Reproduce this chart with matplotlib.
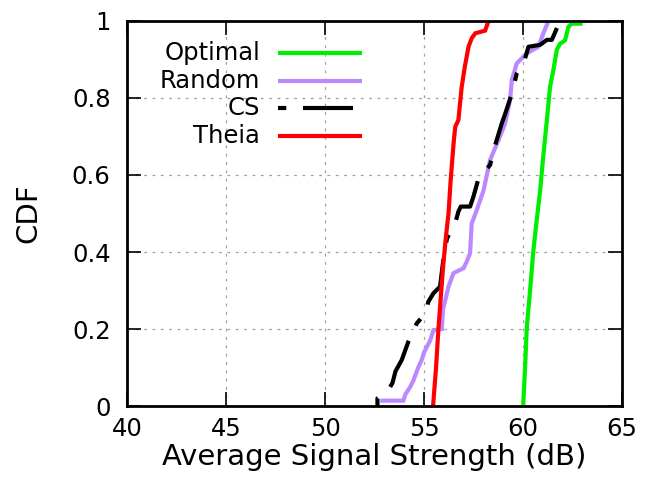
import matplotlib
matplotlib.use("Agg")
import matplotlib.pyplot as plt
from matplotlib.lines import Line2D

plt.rcParams['font.family'] = ['DejaVu Sans']
plt.rcParams['lines.scale_dashes'] = False

# Data
optimal_x = [60.0, 60.1, 60.18, 60.35, 60.51, 60.68, 60.86, 61.03, 61.2, 61.36, 61.53, 61.7,
             61.85, 62.12, 62.29, 62.45, 62.9, 62.9]
optimal_y = [0.0, 0.1, 0.2, 0.3, 0.4, 0.48, 0.56, 0.656, 0.743, 0.829, 0.873, 0.925,
             0.94, 0.95, 0.985, 0.993, 0.993, 1.0]

random_x = [52.78, 53.95, 54.05, 54.3, 54.46, 54.7, 54.88, 55.0, 55.3, 55.47, 55.89, 55.95,
            56.23, 56.48, 56.99, 57.15, 57.32, 57.4, 57.66, 58.0, 58.33, 58.75, 59.09, 59.34,
            59.43, 59.68, 60.19, 60.77, 61.02, 61.28]
random_y = [0.014, 0.014, 0.03, 0.05, 0.067, 0.1, 0.12, 0.14, 0.17, 0.197, 0.2, 0.25,
            0.31, 0.345, 0.358, 0.375, 0.397, 0.474, 0.509, 0.56, 0.639, 0.69, 0.734, 0.795,
            0.847, 0.89, 0.916, 0.933, 0.968, 1.0]

cs_x = [52.64, 52.64, 53.2, 53.4, 53.55, 53.87, 54.2, 54.63, 55.13, 55.2, 55.47, 55.8, 55.97,
        56.15, 56.57, 56.73, 56.85, 57.32, 57.49, 57.74, 58.33, 58.59, 58.92, 59.1, 59.43,
        59.68, 60.1, 60.27, 60.86, 61.2, 61.45, 61.78, 61.78]
cs_y = [0.0, 0.02, 0.042, 0.06, 0.09, 0.12, 0.167, 0.215, 0.245, 0.27, 0.293, 0.31, 0.38,
        0.435, 0.475, 0.505, 0.518, 0.518, 0.544, 0.59, 0.626, 0.678, 0.734, 0.76, 0.812,
        0.864, 0.903, 0.933, 0.938, 0.951, 0.951, 0.99, 1.0]

theia_x = [55.45, 55.6, 55.72, 55.85, 55.97, 56.1, 56.23, 56.33, 56.42, 56.5, 56.57, 56.73,
           56.8, 56.9, 57.05, 57.24, 57.4, 57.58, 58.08, 58.25]
theia_y = [0.0, 0.1, 0.2, 0.29, 0.37, 0.44, 0.5, 0.58, 0.64, 0.69, 0.725, 0.743,
           0.78, 0.83, 0.88, 0.933, 0.955, 0.968, 0.975, 1.0]

series_names = ["Optimal", "Random", "CS", "Theia"]
xticks = [40, 45, 50, 55, 60, 65]
yticks = [0, 0.2, 0.4, 0.6, 0.8, 1.0]
ytick_labels = ["0", "0.2", "0.4", "0.6", "0.8", "1"]

fig = plt.figure(figsize=(6.46, 4.88), dpi=100)
ax = fig.add_axes([0.197, 0.168, 0.766, 0.789])

lw = 3.0
cs_dash = (0, (6, 12, 36, 12))
styles = [
    dict(color="#00ee00", lw=lw, ls="-"),
    dict(color="#bb88ff", lw=lw, ls="-"),
    dict(color="black", lw=lw, ls=cs_dash),
    dict(color="#ff0000", lw=lw, ls="-"),
]
data = [(optimal_x, optimal_y), (random_x, random_y), (cs_x, cs_y), (theia_x, theia_y)]
for (xs, ys), st in zip(data, styles):
    ax.plot(xs, ys, color=st["color"], lw=st["lw"], linestyle=st["ls"],
            solid_joinstyle="miter", solid_capstyle="butt", dash_capstyle="butt")

ax.set_xlim(40, 65)
ax.set_ylim(0, 1)
ax.set_xticks(xticks)
ax.set_yticks(yticks)
ax.set_yticklabels(ytick_labels)
ax.tick_params(direction="in", length=10, width=1.2, top=True, right=True,
               labelsize=17.5, pad=8)
ax.tick_params(axis="y", pad=12)
ax.grid(True, color="#a0a0a0", linestyle=(0, (2, 4)), linewidth=0.9)
for s in ax.spines.values():
    s.set_linewidth(2)
ax.set_xlabel("Average Signal Strength (dB)", fontsize=21)
ax.set_ylabel("CDF", fontsize=21)
ax.xaxis.set_label_coords(0.5, -0.097)
ax.yaxis.set_label_coords(-0.172, 0.5)

# Gnuplot-style legend: right-aligned text, sample line to the right
rows_y = [0.918, 0.845, 0.774, 0.701]
for name, st, yy in zip(series_names, styles, rows_y):
    ax.text(0.269, yy, name, transform=ax.transAxes, ha="right", va="center", fontsize=17.5)
    ax.add_line(Line2D([0.305, 0.475], [yy, yy], transform=ax.transAxes,
                       color=st["color"], lw=st["lw"], linestyle=st["ls"],
                       solid_capstyle="butt", dash_capstyle="butt"))

fig.savefig("out.png", dpi=100)
